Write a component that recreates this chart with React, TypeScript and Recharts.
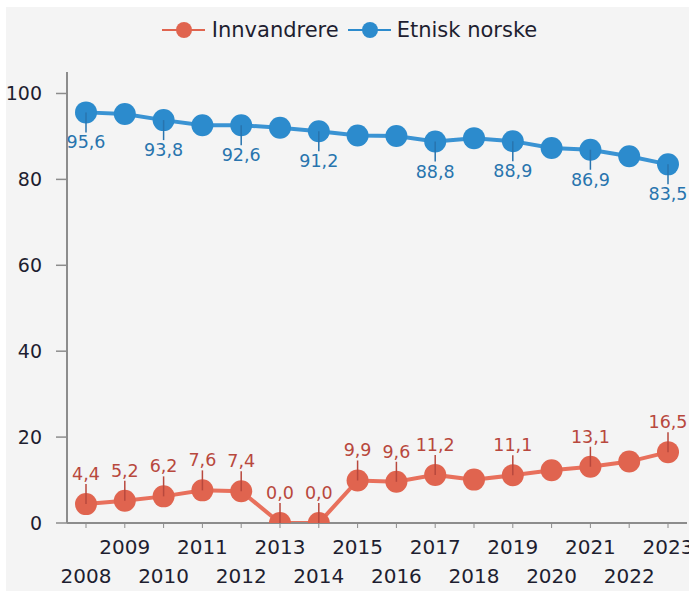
import { LineChart, Line, XAxis, YAxis, LabelList } from "recharts";

const years = ["2008", "2009", "2010", "2011", "2012", "2013", "2014", "2015", "2016", "2017", "2018", "2019", "2020", "2021", "2022", "2023"];
const innvandrere = [4.4, 5.2, 6.2, 7.6, 7.4, 0, 0, 9.9, 9.6, 11.2, 10.1, 11.1, 12.3, 13.1, 14.3, 16.5];
const etniskNorske = [95.6, 95.2, 93.8, 92.6, 92.6, 92.0, 91.2, 90.2, 90.1, 88.8, 89.6, 88.9, 87.3, 86.9, 85.4, 83.5];
// which points carry a value label in the original
const innvandrereLabeled = [1, 1, 1, 1, 1, 1, 1, 1, 1, 1, 0, 1, 0, 1, 0, 1];
const etniskLabeled = [1, 0, 1, 0, 1, 0, 1, 0, 0, 1, 0, 1, 0, 1, 0, 1];
const yTicks = [0, 20, 40, 60, 80, 100];

const RED = "#e0644f";
const RED_LINE = "#e8705c";
const RED_TEXT = "#b8483d";
const BLUE = "#2c8bcd";
const BLUE_LINE = "#3a93d3";
const BLUE_TEXT = "#2874ae";
const FONT = "'DejaVu Sans', sans-serif";

const data = years.map((year, i) => ({
  year,
  innvandrere: innvandrere[i],
  etnisk: etniskNorske[i],
  innLabel: innvandrereLabeled[i] ? innvandrere[i] : null,
  etnLabel: etniskLabeled[i] ? etniskNorske[i] : null,
}));

const fmt = (v: number) => v.toFixed(1).replace(".", ",");

const makeLabel = (color: string, below: boolean) => (props: any) => {
  const { value } = props;
  if (value === null || value === undefined) return null;
  const x = props.x ?? props.viewBox?.x;
  const y = props.y ?? props.viewBox?.y;
  const dir = below ? 1 : -1;
  return (
    <g>
      <line x1={x} y1={y} x2={x} y2={y + dir * 20} stroke={color} strokeWidth={1.5} />
      <text x={x} y={y + dir * 30} textAnchor="middle" dominantBaseline="central" fill={color} fontSize={17.5} fontFamily={FONT}>
        {fmt(value)}
      </text>
    </g>
  );
};

const YearTick = (props: any) => {
  const { x, y, payload, index } = props;
  const row = index % 2 === 1 ? 0 : 1;
  return (
    <text x={x} y={y + 17 + row * 29} textAnchor="middle" dominantBaseline="central" fill="#1e1e30" fontSize={20} fontFamily={FONT}>
      {payload.value}
    </text>
  );
};

const LegendIcon = ({ color }: { color: string }) => (
  <svg width={43} height={20}>
    <line x1={0} y1={10} x2={43} y2={10} stroke={color} strokeWidth={2} />
    <circle cx={22} cy={10} r={8} fill={color} />
  </svg>
);

export default function App() {
  return (
    <div style={{ position: "absolute", left: 0, top: 0, width: 689, height: 591, background: "#fff", overflow: "hidden" }}>
      <div style={{ position: "absolute", left: 6, top: 7, width: 683, height: 584, background: "#f4f4f4" }}>
        <div
          style={{
            position: "absolute",
            left: -6,
            top: 11,
            width: 699,
            display: "flex",
            justifyContent: "center",
            alignItems: "center",
            fontFamily: FONT,
            fontSize: 21,
            color: "#1e1e30",
          }}
        >
          <LegendIcon color={RED} />
          <span style={{ marginLeft: 7, marginRight: 9 }}>Innvandrere</span>
          <LegendIcon color={BLUE} />
          <span style={{ marginLeft: 6 }}>Etnisk norske</span>
        </div>
        <LineChart width={683} height={584} data={data} margin={{ top: 65, right: 2, bottom: 8, left: 0 }}>
          <XAxis
            dataKey="year"
            interval={0}
            height={60}
            padding={{ left: 19, right: 19 }}
            tick={<YearTick />}
            tickSize={5}
            axisLine={{ stroke: "#8c8c8c", strokeWidth: 2 }}
            tickLine={{ stroke: "#8c8c8c", strokeWidth: 1 }}
          />
          <YAxis
            domain={[0, 105]}
            ticks={yTicks}
            allowDataOverflow
            width={61}
            tickSize={11}
            tickMargin={14}
            axisLine={{ stroke: "#8c8c8c", strokeWidth: 2 }}
            tickLine={{ stroke: "#8c8c8c", strokeWidth: 1.5 }}
            tick={{ fill: "#1e1e30", fontSize: 19, fontFamily: FONT }}
          />
          <Line
            dataKey="innvandrere"
            stroke={RED_LINE}
            strokeWidth={4}
            dot={{ r: 11, fill: RED, stroke: RED, strokeWidth: 0 }}
            activeDot={false}
            isAnimationActive={false}
          >
            <LabelList dataKey="innLabel" content={makeLabel(RED_TEXT, false)} />
          </Line>
          <Line
            dataKey="etnisk"
            stroke={BLUE_LINE}
            strokeWidth={4}
            dot={{ r: 11, fill: BLUE, stroke: BLUE, strokeWidth: 0 }}
            activeDot={false}
            isAnimationActive={false}
          >
            <LabelList dataKey="etnLabel" content={makeLabel(BLUE_TEXT, true)} />
          </Line>
        </LineChart>
      </div>
    </div>
  );
}
